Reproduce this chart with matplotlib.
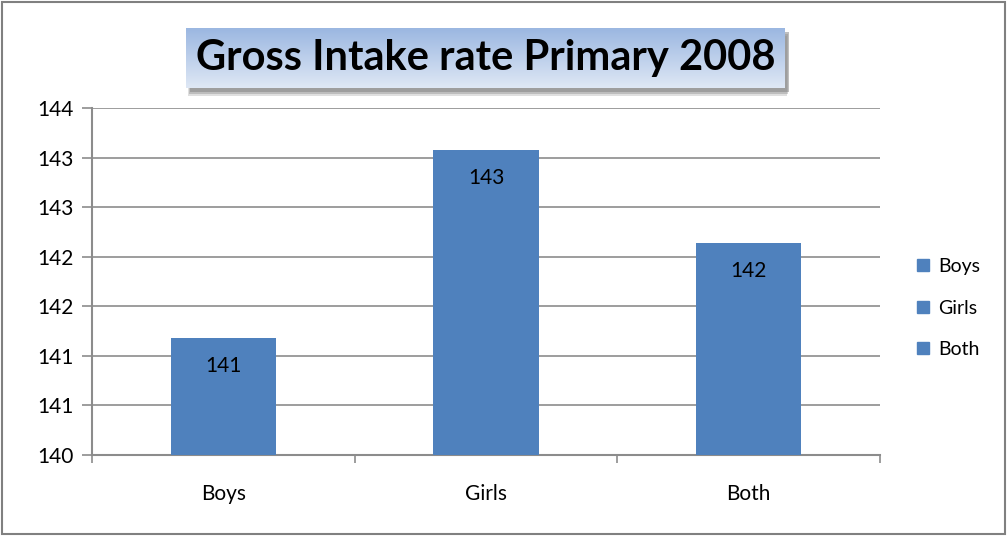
import numpy as np
import matplotlib.pyplot as plt
from matplotlib.patches import Rectangle
from matplotlib.lines import Line2D
from matplotlib.colors import LinearSegmentedColormap

categories = ['Boys', 'Girls', 'Both']
values = [141.18, 143.08, 142.14]
y_ticks = [140, 140.5, 141, 141.5, 142, 142.5, 143, 143.5]

BAR = '#4F81BD'
GRID = '#8C8C8C'
plt.rcParams['font.family'] = ['Lato', 'DejaVu Sans']

fig = plt.figure(figsize=(10.07, 5.36), dpi=100)
ax = fig.add_axes([92 / 1007, 1 - 455 / 536, 788 / 1007, 347 / 536])

x = np.arange(len(categories))
bars = ax.bar(x, values, width=0.4, color=BAR, zorder=3)
ax.set_ylim(140, 143.5)
ax.set_xlim(-0.5, 2.5)
ax.set_yticks(y_ticks)
ax.set_yticklabels([str(int(np.floor(v + 0.5))) for v in y_ticks], fontsize=15)
ax.yaxis.grid(True, color=GRID, linewidth=1.2, zorder=0)

# category labels between boundary tick marks
ax.set_xticks(x, categories, fontsize=15)
ax.tick_params(axis='x', length=0, pad=21)
ax.set_xticks([-0.5, 0.5, 1.5, 2.5], minor=True)
ax.tick_params(axis='x', which='minor', length=6, color=GRID, width=1.2)
ax.tick_params(axis='y', length=7, color=GRID, width=1.2, pad=6)

for side in ['top', 'right']:
    ax.spines[side].set_visible(False)
for side in ['left', 'bottom']:
    ax.spines[side].set_color(GRID)
    ax.spines[side].set_linewidth(1.5)

for b, v in zip(bars, values):
    ax.annotate(str(int(round(v))), (b.get_x() + b.get_width() / 2, v),
                xytext=(0, -28), textcoords='offset pixels',
                ha='center', va='center', fontsize=15, zorder=4)

# title box with gradient and shadow
bx0, by0, bw, bh = 186 / 1007, 1 - 88 / 536, 599 / 1007, 60 / 536
for i, a in enumerate([0.25, 0.35, 0.5]):
    fig.patches.append(Rectangle((bx0 + (2 + i) / 1007, by0 - (8 - 2 * i) / 536), bw, bh,
                                 transform=fig.transFigure, facecolor='#808080',
                                 alpha=a, edgecolor='none', zorder=-1))
grad = np.linspace(0, 1, 256).reshape(-1, 1)
gax = fig.add_axes([bx0, by0, bw, bh], zorder=0.5)
gax.imshow(grad, aspect='auto', extent=[0, 1, 0, 1],
           cmap=LinearSegmentedColormap.from_list('g', ['#DFE8F5', '#9BB7E1']), origin='lower')
gax.axis('off')
fig.text(bx0 + bw / 2, by0 + bh / 2, 'Gross Intake rate Primary 2008',
         ha='center', va='center', fontsize=30, fontweight='bold', zorder=5)

# legend
handles = [Line2D([0], [0], marker='s', linestyle='none', markersize=9,
                  markerfacecolor=BAR, markeredgecolor=BAR) for _ in categories]
fig.legend(handles, categories, loc='center left', bbox_to_anchor=(913 / 1007, 1 - 308 / 536),
           frameon=False, fontsize=14, handlelength=1.0, handletextpad=0.3,
           labelspacing=1.25, borderaxespad=0, borderpad=0)

# outer border
fig.patches.append(Rectangle((0.002, 0.003), 0.996, 0.994, transform=fig.transFigure,
                             fill=False, edgecolor='#808080', linewidth=1.5))

fig.savefig('out.png', dpi=100)
